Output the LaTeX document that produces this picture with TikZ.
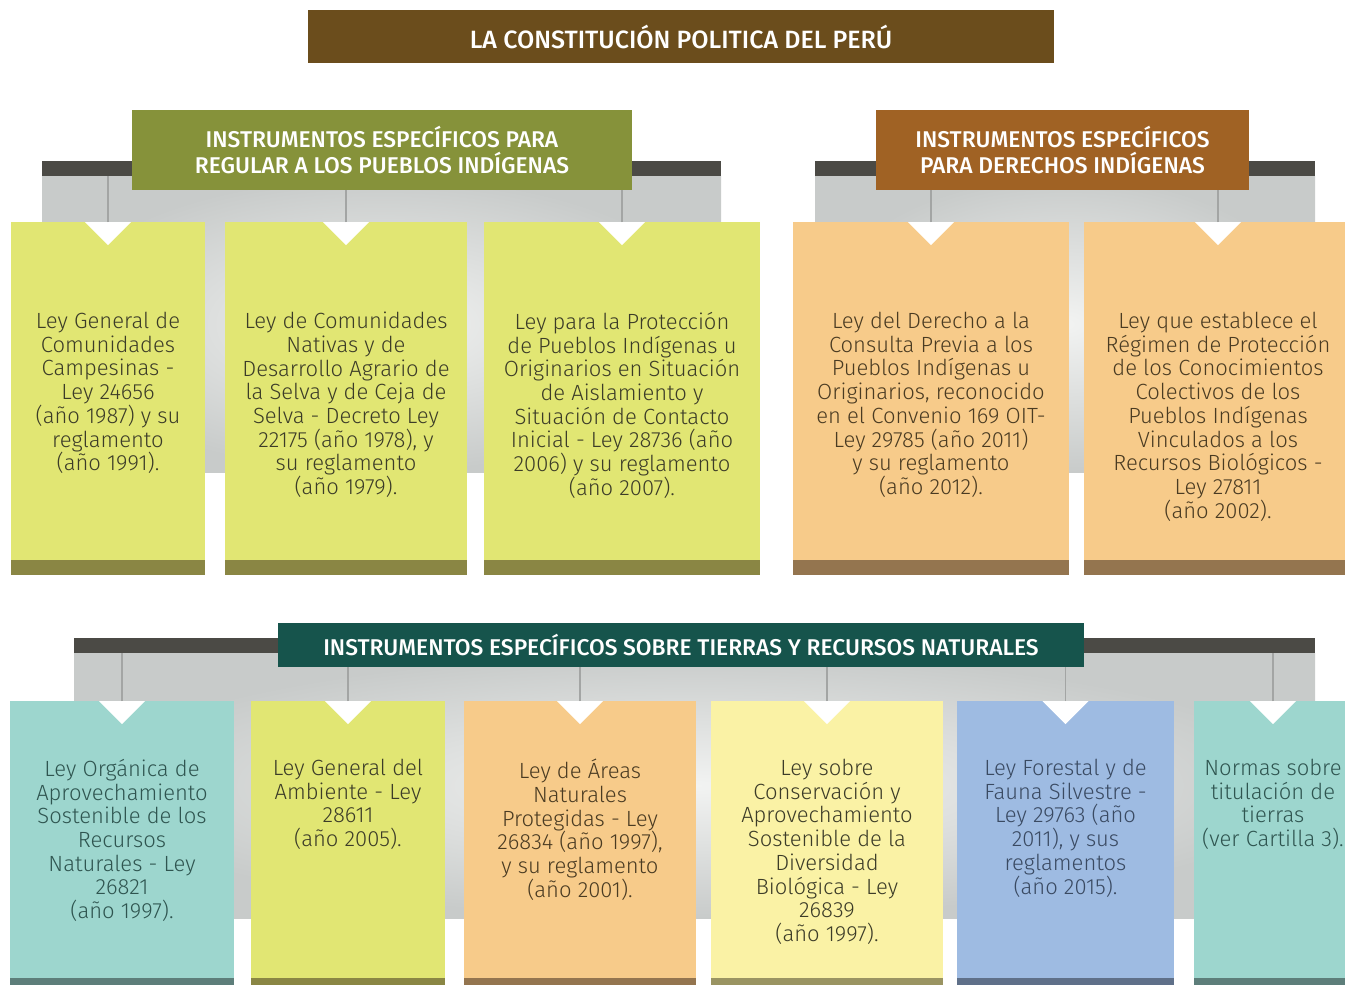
\documentclass[tikz,border=0pt]{standalone}
\usepackage{fontspec}
\setmainfont{Fira Sans}[UprightFont=* Light, BoldFont=* Medium]
\usetikzlibrary{positioning}
\definecolor{TitleBrown}{HTML}{6B4D1C}
\definecolor{HeadGreen}{HTML}{86923A}
\definecolor{HeadOrange}{HTML}{A06224}
\definecolor{HeadTeal}{HTML}{16544C}
\definecolor{BarDark}{HTML}{4B4A45}
\definecolor{PanelGray}{HTML}{C8CBCA}
\definecolor{PanelLight}{HTML}{F2F3F2}
\definecolor{StemGray}{HTML}{A3A5A4}
\definecolor{LimeCard}{HTML}{E1E673}
\definecolor{LimeBar}{HTML}{8A8644}
\definecolor{PeachCard}{HTML}{F7CB8A}
\definecolor{PeachBar}{HTML}{94754F}
\definecolor{MintCard}{HTML}{9DD6CE}
\definecolor{MintBar}{HTML}{5D7E7A}
\definecolor{CreamCard}{HTML}{FAF2A5}
\definecolor{CreamBar}{HTML}{9A9462}
\definecolor{SkyCard}{HTML}{9EBBE2}
\definecolor{SkyBar}{HTML}{5F7089}
\definecolor{LimeText}{HTML}{3C3C28}
\definecolor{PeachText}{HTML}{4A3B22}
\definecolor{MintText}{HTML}{2F5550}
\definecolor{SkyText}{HTML}{3A4A62}

\begin{document}
\begin{tikzpicture}[x=1pt,y=-1pt,node distance=58pt,
    head/.style={fill=#1,text=white,inner sep=0pt,align=center,
                 font=\bfseries\fontsize{22.8}{26}\selectfont},
    bar/.style={fill=BarDark,minimum height=15pt,inner sep=0pt},
    panel/.style={inner color=PanelLight,outer color=PanelGray},
    stem/.style={draw=StemGray,line width=1.2pt},
    card/.style 2 args={fill=#1,inner sep=0pt,anchor=north,
      path picture={
        \fill[#2] (path picture bounding box.south west)
          rectangle ([yshift=15pt]path picture bounding box.south east);
        \fill[white] ([xshift=-23pt]path picture bounding box.north)
          -- ([xshift=23pt]path picture bounding box.north)
          -- ([yshift=-23pt]path picture bounding box.north) -- cycle;}},
    law/.style={inner sep=0pt,align=center,text=#1,
                font=\fontsize{22}{23.7}\selectfont,
                execute at begin node={\rule{0pt}{22pt}}}]

  \useasboundingbox (0,0) rectangle (1345,985);

  % gray panels behind each group
  \shade[panel] (42,176) rectangle (721,472);
  \shade[panel] (815,176) rectangle (1315,472);
  \shade[panel] (74,653) rectangle (1315,918);

  \node[bar,minimum width=679pt]  (bar1) at (381.5,168.5) {};
  \node[bar,minimum width=500pt]  (bar2) at (1065,168.5) {};
  \node[bar,minimum width=1241pt] (bar3) at (694.5,645.5) {};

  % first row
  \node[card={LimeCard}{LimeBar},minimum width=194pt,minimum height=353pt]
    (ley11) at (108,222) {};
  \node[card={LimeCard}{LimeBar},minimum width=242pt,minimum height=353pt]
    (ley12) at (346,222) {};
  \node[card={LimeCard}{LimeBar},minimum width=276pt,minimum height=353pt]
    (ley13) at (622,222) {};
  \node[card={PeachCard}{PeachBar},minimum width=276pt,minimum height=353pt]
    (ley21) at (931,222) {};
  \node[card={PeachCard}{PeachBar},minimum width=268pt,minimum height=353pt]
    (ley22) at (1218,222) {};

  \node[law=LimeText,below=90pt of ley11.north]
    {Ley General de\\Comunidades\\Campesinas -\\Ley 24656\\(año 1987) y su\\reglamento\\(año 1991).};
  \node[law=LimeText,below=90pt of ley12.north]
    {Ley de Comunidades\\Nativas y de\\Desarrollo Agrario de\\la Selva y de Ceja de\\Selva - Decreto Ley\\22175 (año 1978), y\\su reglamento\\(año 1979).};
  \node[law=LimeText,below=90pt of ley13.north]
    {Ley para la Protección\\de Pueblos Indígenas u\\Originarios en Situación\\de Aislamiento y\\Situación de Contacto\\Inicial - Ley 28736 (año\\2006) y su reglamento\\(año 2007).};
  \node[law=PeachText,below=90pt of ley21.north]
    {Ley del Derecho a la\\Consulta Previa a los\\Pueblos Indígenas u\\Originarios, reconocido\\en el Convenio 169 OIT-\\Ley 29785 (año 2011)\\y su reglamento\\(año 2012).};
  \node[law=PeachText,below=90pt of ley22.north]
    {Ley que establece el\\Régimen de Protección\\de los Conocimientos\\Colectivos de los\\Pueblos Indígenas\\Vinculados a los\\Recursos Biológicos -\\Ley 27811\\(año 2002).};

  % second row
  \node[card={MintCard}{MintBar},minimum width=224pt,minimum height=292pt]
    (ley31) at (122,701) {};
  \node[card={LimeCard}{LimeBar},minimum width=194pt,minimum height=292pt]
    (ley32) at (348,701) {};
  \node[card={PeachCard}{PeachBar},minimum width=232pt,minimum height=292pt]
    (ley33) at (580,701) {};
  \node[card={CreamCard}{CreamBar},minimum width=232pt,minimum height=292pt]
    (ley34) at (827,701) {};
  \node[card={SkyCard}{SkyBar},minimum width=217pt,minimum height=292pt]
    (ley35) at (1065.5,701) {};
  \node[card={MintCard}{MintBar},minimum width=158pt,minimum height=292pt]
    (ley36) at (1273,701) {};

  \node[law=MintText,below=of ley31.north]
    {Ley Orgánica de\\Aprovechamiento\\Sostenible de los\\Recursos\\Naturales - Ley\\26821\\(año 1997).};
  \node[law=LimeText,below=of ley32.north]
    {Ley General del\\Ambiente - Ley\\28611\\(año 2005).};
  \node[law=PeachText,below=of ley33.north]
    {Ley de Áreas\\Naturales\\Protegidas - Ley\\26834 (año 1997),\\y su reglamento\\(año 2001).};
  \node[law=LimeText,below=of ley34.north]
    {Ley sobre\\Conservación y\\Aprovechamiento\\Sostenible de la\\Diversidad\\Biológica - Ley\\26839\\(año 1997).};
  \node[law=SkyText,below=of ley35.north]
    {Ley Forestal y de\\Fauna Silvestre -\\Ley 29763 (año\\2011), y sus\\reglamentos\\(año 2015).};
  \node[law=MintText,below=of ley36.north]
    {Normas sobre\\titulación de\\tierras\\(ver Cartilla 3).};

  \foreach \c/\b in {ley11/bar1,ley12/bar1,ley13/bar1,ley21/bar2,ley22/bar2,
                     ley31/bar3,ley32/bar3,ley33/bar3,ley34/bar3,ley35/bar3,ley36/bar3}{
    \draw[stem] (\c.north) -- (\c.north |- \b.south);
  }

  % headers
  \node[head=TitleBrown,minimum width=746pt,minimum height=53pt,
        font=\bfseries\fontsize{25}{26}\selectfont]
    (cpp) at (681,36.5) {LA CONSTITUCIÓN POLITICA DEL PERÚ};
  \node[head=HeadGreen,minimum width=500pt,minimum height=80pt]
    (grp1) at (382,150) {INSTRUMENTOS ESPECÍFICOS PARA\\REGULAR A LOS PUEBLOS INDÍGENAS};
  \node[head=HeadOrange,minimum width=373pt,minimum height=80pt]
    (grp2) at (1062.5,150) {INSTRUMENTOS ESPECÍFICOS\\PARA DERECHOS INDÍGENAS};
  \node[head=HeadTeal,minimum width=806pt,minimum height=44pt]
    (grp3) at (681,645) {INSTRUMENTOS ESPECÍFICOS SOBRE TIERRAS Y RECURSOS NATURALES};
\end{tikzpicture}
\end{document}
